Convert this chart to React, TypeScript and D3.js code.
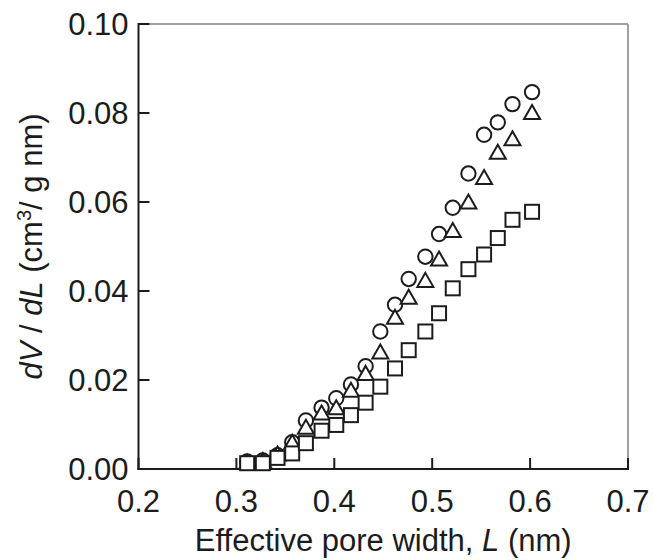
import React from "react";
import * as d3 from "d3";

// Effective pore width L (nm) shared by the three series
const poreWidth = [0.311, 0.327, 0.342, 0.357, 0.371, 0.387, 0.402, 0.417, 0.432, 0.447, 0.462, 0.476, 0.493, 0.507, 0.521, 0.537, 0.553, 0.567, 0.582, 0.602];

// dV/dL (cm3/g nm) for each sample
const circleSeries = [0.0017, 0.0019, 0.0031, 0.006, 0.0109, 0.0138, 0.0159, 0.019, 0.0231, 0.0309, 0.0369, 0.0427, 0.0477, 0.0528, 0.0587, 0.0664, 0.0751, 0.0779, 0.082, 0.0847];
const triangleSeries = [0.0016, 0.002, 0.0035, 0.0061, 0.0095, 0.0127, 0.0139, 0.0178, 0.0216, 0.0264, 0.0342, 0.0387, 0.0425, 0.0473, 0.0537, 0.0601, 0.0656, 0.0713, 0.0743, 0.0802];
const squareSeries = [0.0013, 0.0013, 0.0025, 0.0035, 0.0058, 0.0086, 0.0099, 0.0121, 0.0149, 0.0185, 0.0226, 0.0267, 0.0309, 0.035, 0.0406, 0.0449, 0.0482, 0.0519, 0.056, 0.0578];

const xTicks = [0.2, 0.3, 0.4, 0.5, 0.6, 0.7];
const yTicks = [0.0, 0.02, 0.04, 0.06, 0.08, 0.1];

const W = 654;
const H = 560;
const left = 138.5;
const right = 628;
const top = 24;
const bottom = 469;

const FONT = "'Liberation Sans', Arial, Helvetica, sans-serif";
const INK = "#1c1c1c";

export default function App() {
  const x = d3.scaleLinear().domain([0.2, 0.7]).range([left, right]);
  const y = d3.scaleLinear().domain([0, 0.1]).range([bottom, top]);
  const tickLen = 11;
  const fs = 31;

  const r = 7.2;
  const sq = 14;
  const triW = 16;
  const triH = 14;

  const triPath = (cx: number, cy: number) =>
    `M${cx},${cy - triH / 2}L${cx + triW / 2},${cy + triH / 2}L${cx - triW / 2},${cy + triH / 2}Z`;

  return (
    <svg
      width={W}
      height={H}
      style={{ position: "absolute", left: 0, top: 0, background: "#fff" }}
      fontFamily={FONT}
    >
      <rect x={0} y={0} width={W} height={H} fill="#fff" />

      {/* top and right frame */}
      <line x1={left} x2={right} y1={top} y2={top} stroke="#a0a0a0" strokeWidth={2} />
      <line x1={right} x2={right} y1={top} y2={bottom} stroke="#a0a0a0" strokeWidth={2} />

      {/* ticks */}
      {xTicks.map((t) => (
        <line key={`xt${t}`} x1={x(t)} x2={x(t)} y1={bottom} y2={bottom - tickLen} stroke={INK} strokeWidth={2} />
      ))}
      {yTicks.map((t) => (
        <line key={`yt${t}`} x1={left} x2={left + tickLen} y1={y(t)} y2={y(t)} stroke={INK} strokeWidth={2} />
      ))}

      {/* left and bottom axes */}
      <line x1={left} x2={left} y1={top - 1} y2={bottom + 1} stroke={INK} strokeWidth={2} />
      <line x1={left - 1} x2={right + 1} y1={bottom} y2={bottom} stroke={INK} strokeWidth={2} />

      {/* tick labels */}
      {xTicks.map((t) => (
        <text key={`xl${t}`} x={x(t)} y={bottom + 43} textAnchor="middle" fontSize={fs} fill={INK}>
          {d3.format(".1f")(t)}
        </text>
      ))}
      {yTicks.map((t) => (
        <text key={`yl${t}`} x={left - 10} y={y(t) + 11} textAnchor="end" fontSize={fs} fill={INK}>
          {d3.format(".2f")(t)}
        </text>
      ))}

      {/* axis titles */}
      <text x={(left + right) / 2} y={551} textAnchor="middle" fontSize={fs} fill={INK}>
        Effective pore width, <tspan fontStyle="italic">L</tspan> (nm)
      </text>
      <text
        transform={`translate(42,${(top + bottom) / 2}) rotate(-90)`}
        textAnchor="middle"
        fontSize={fs}
        fill={INK}
      >
        <tspan fontStyle="italic">dV</tspan> / <tspan fontStyle="italic">dL</tspan> (cm
        <tspan fontSize={fs * 0.65} dy={-11}>3</tspan>
        <tspan dy={11}>/ g nm)</tspan>
      </text>

      {/* markers */}
      {circleSeries.map((v, i) => (
        <circle key={`c${i}`} cx={x(poreWidth[i])} cy={y(v)} r={r} fill="#fff" stroke={INK} strokeWidth={2} />
      ))}
      {triangleSeries.map((v, i) => (
        <path key={`t${i}`} d={triPath(x(poreWidth[i]), y(v))} fill="#fff" stroke={INK} strokeWidth={2} strokeLinejoin="miter" />
      ))}
      {squareSeries.map((v, i) => (
        <rect
          key={`s${i}`}
          x={x(poreWidth[i]) - sq / 2}
          y={y(v) - sq / 2}
          width={sq}
          height={sq}
          fill="#fff"
          stroke={INK}
          strokeWidth={2}
        />
      ))}
    </svg>
  );
}
